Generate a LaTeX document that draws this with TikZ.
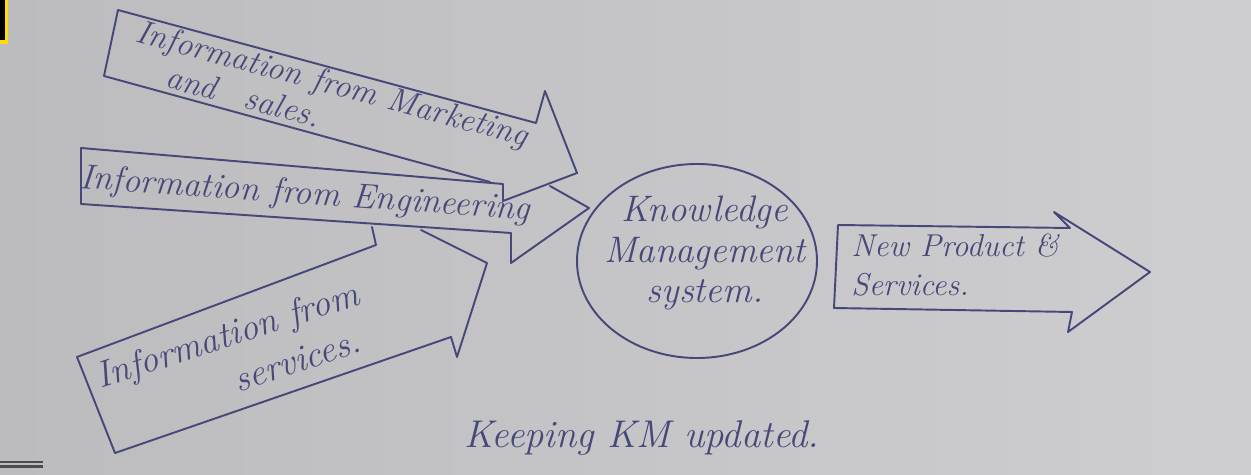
\documentclass[tikz,border=0pt]{standalone}
\definecolor{paperL}{RGB}{188,188,190}
\definecolor{paperR}{RGB}{206,206,208}
\definecolor{ink}{RGB}{70,72,122}
\tikzset{
  sketch/.style={draw=ink, line width=1.1pt, line join=round, line cap=round},
  hand/.style={text=ink, inner sep=0pt, font=\itshape},
}
\begin{document}
\begin{tikzpicture}[x=0.02cm, y=-0.02cm]
\shade[left color=paperL, right color=paperR] (0,0) rectangle (1251,475);
\useasboundingbox (0,0) rectangle (1251,475);
% corner artefacts
\fill[yellow!80!orange] (0,0) rectangle (8,44);
\fill[black] (0,0) rectangle (5,40);
\draw[black!70, line width=1.2pt] (0,462) -- (43,462);
\draw[black!70, line width=1.2pt] (0,466.5) -- (43,466.5);

% Marketing arrow
\coordinate (m1) at (490,182);
\coordinate (m2) at (104,76);
\coordinate (m3) at (118,10);
\coordinate (m4) at (536,123);
\coordinate (m5) at (545,91);
\coordinate (m6) at (577,173);
\coordinate (m7) at (503,201);
\draw[sketch] (m1) -- (m2) -- (m3) -- (m4) -- (m5) -- (m6) -- (m7);

% Engineering arrow
\coordinate (e1) at (81,148);
\coordinate (e2) at (503,184);
\coordinate (e3) at (503,201);
\coordinate (e4) at (550,186);
\coordinate (e5) at (589,208);
\coordinate (e6) at (511,263);
\coordinate (e7) at (511,233);
\coordinate (e8) at (81,204);
\draw[sketch] (e1) -- (e2) -- (e3);
\draw[sketch] (e4) -- (e5) -- (e6) -- (e7) -- (e8) -- (e1);

% Services arrow
\coordinate (s1) at (421,230);
\coordinate (s2) at (487,263);
\coordinate (s3) at (457,357);
\coordinate (s4) at (451,337);
\coordinate (s5) at (115,453);
\coordinate (s6) at (77,357);
\coordinate (s7) at (376,245);
\coordinate (s8) at (372,227);
\draw[sketch] (s1) -- (s2) -- (s3) -- (s4) -- (s5) -- (s6) -- (s7) -- (s8);

% Knowledge Management System circle
\draw[sketch] (697,261) ellipse [x radius=120, y radius=97];
\node[hand, align=center, font=\itshape\fontsize{21}{23}\selectfont] (kms) at (705,253)
  {Knowledge\\Management\\system.};

% New product arrow
\coordinate (n1) at (838,225);
\coordinate (n2) at (1070,228);
\coordinate (n3) at (1054,212);
\coordinate (n4) at (1150,272);
\coordinate (n5) at (1068,332);
\coordinate (n6) at (1072,312);
\coordinate (n7) at (834,308);
\draw[sketch] (n1) -- (n2) -- (n3) -- (n4) -- (n5) -- (n6) -- (n7) -- cycle;
\node[hand, align=left, anchor=west, font=\itshape\fontsize{18}{22}\selectfont] (np) at (851,265)
  {New Product \&\\ Services.};

% Labels on input arrows
\node[hand, rotate=-15, align=left, font=\itshape\fontsize{19}{20.5}\selectfont] (mk) at (328,100)
  {Information from Marketing\\\hspace*{0.8cm}and\hspace{0.6cm}sales.};
\node[hand, rotate=-4, font=\itshape\fontsize{20}{24}\selectfont] (en) at (305,195) {Information from Engineering};
\node[hand, rotate=18, align=left, font=\itshape\fontsize{21}{26}\selectfont] (sv) at (234,356)
  {Information from\\\hspace*{2.6cm}services.};

% bottom caption
\node[hand, font=\itshape\fontsize{22}{26}\selectfont] (keep) at (642,438) {Keeping KM updated.};
\end{tikzpicture}
\end{document}
